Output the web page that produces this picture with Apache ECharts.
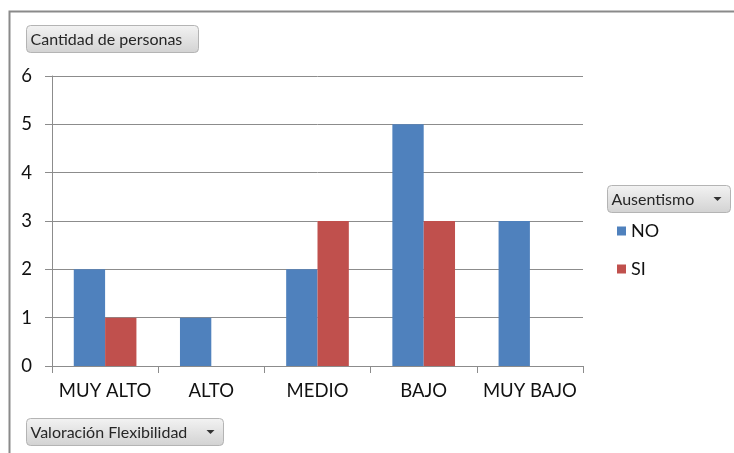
<!DOCTYPE html>
<html>
<head>
<meta charset="utf-8">
<style>
  html, body { margin: 0; padding: 0; background: #fff; }
  #chart { width: 734px; height: 453px; }
</style>
<script src="https://cdn.jsdelivr.net/npm/echarts@6/dist/echarts.min.js"></script>
</head>
<body>
<div id="chart"></div>
<script>
// Valoración de flexibilidad vs. ausentismo (cantidad de personas)
const categories = ['MUY ALTO', 'ALTO', 'MEDIO', 'BAJO', 'MUY BAJO'];
const seriesNames = ['NO', 'SI'];
const valuesNo = [2, 1, 2, 5, 3];
const valuesSi = [1, null, 3, 3, null];
const yTicks = { min: 0, max: 6, interval: 1 };

const FONT = 'Lato, "Open Sans", sans-serif';

// Pivot-style field button (rounded grey gradient box with optional drop arrow)
function fieldButton(x, y, w, h, label, arrow) {
  const children = [
    {
      type: 'rect',
      shape: { x: 0, y: 0, width: w, height: h, r: 4 },
      style: {
        fill: new echarts.graphic.LinearGradient(0, 0, 0, 1, [
          { offset: 0, color: '#f3f3f3' },
          { offset: 1, color: '#d2d2d2' }
        ]),
        stroke: '#b4b4b4',
        lineWidth: 1
      }
    },
    {
      type: 'text',
      x: 4, y: h / 2 + 1,
      style: {
        text: label,
        fontFamily: FONT,
        fontSize: 16,
        fill: '#262626',
        verticalAlign: 'middle'
      }
    }
  ];
  if (arrow) {
    children.push({
      type: 'polygon',
      shape: { points: [[w - 17, h / 2 - 2], [w - 9, h / 2 - 2], [w - 13, h / 2 + 2]] },
      style: { fill: '#333' }
    });
  }
  return { type: 'group', x: x, y: y, children: children };
}

const chart = echarts.init(document.getElementById('chart'), null, { renderer: 'canvas' });

chart.setOption({
  animation: false,
  backgroundColor: '#fff',
  color: ['#4F81BD', '#C0504D'],
  grid: { left: 52, top: 76, width: 531, height: 290 },
  legend: {
    data: seriesNames,
    orient: 'vertical',
    left: 612,
    top: 217,
    icon: 'rect',
    itemWidth: 9,
    itemHeight: 9,
    itemGap: 20,
    textStyle: { fontFamily: FONT, fontSize: 18, color: '#111', lineHeight: 18 }
  },
  xAxis: {
    type: 'category',
    data: categories,
    boundaryGap: true,
    axisLine: { lineStyle: { color: '#8c8c8c', width: 1 } },
    axisTick: { show: true, length: 7, lineStyle: { color: '#8c8c8c' } },
    axisLabel: {
      interval: 0,
      hideOverlap: false,
      fontFamily: FONT, fontSize: 18.5, color: '#111', margin: 16
    },
    splitLine: { show: false }
  },
  yAxis: {
    type: 'value',
    min: yTicks.min,
    max: yTicks.max,
    interval: yTicks.interval,
    axisLine: { show: true, lineStyle: { color: '#8c8c8c', width: 1 } },
    axisTick: { show: true, length: 7, lineStyle: { color: '#8c8c8c' } },
    axisLabel: { fontFamily: FONT, fontSize: 18.5, color: '#111', margin: 20 },
    splitLine: { show: true, lineStyle: { color: '#8c8c8c', width: 1 } }
  },
  series: [
    {
      name: seriesNames[0],
      type: 'bar',
      data: valuesNo,
      barGap: '0%',
      barCategoryGap: '41%'
    },
    {
      name: seriesNames[1],
      type: 'bar',
      data: valuesSi,
      barGap: '0%',
      barCategoryGap: '41%'
    }
  ],
  graphic: [
    // chart frame (top and left edges visible)
    {
      type: 'rect',
      shape: { x: 9.5, y: 11.5, width: 740, height: 460 },
      style: { fill: null, stroke: '#8a8a8a', lineWidth: 2 },
      silent: true
    },
    fieldButton(26.5, 25.5, 172, 27, 'Cantidad de personas', false),
    fieldButton(607.5, 185.5, 123, 27, 'Ausentismo', true),
    fieldButton(26.5, 418.5, 197, 27, 'Valoración Flexibilidad', true)
  ]
});
</script>
</body>
</html>
